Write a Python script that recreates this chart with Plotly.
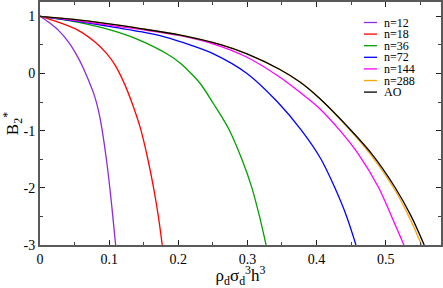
import plotly.graph_objects as go

# ---- data ----
x_n12 = [0, 0.0127, 0.0271, 0.0416, 0.0535, 0.0632, 0.0704, 0.0762, 0.0815, 0.0860, 0.0900, 0.0960, 0.1010, 0.1053, 0.1094]
y_n12 = [1, 0.895, 0.75, 0.545, 0.313, 0.08, -0.124, -0.30, -0.5, -0.73, -1.0, -1.5, -2.0, -2.5, -3.0]

x_n18 = [0, 0.0271, 0.056, 0.080, 0.0968, 0.109, 0.1214, 0.1335, 0.1455, 0.156, 0.1643, 0.1712, 0.1768]
y_n18 = [1, 0.895, 0.75, 0.545, 0.342, 0.138, -0.16, -0.53, -0.97, -1.5, -2.0, -2.5, -3.0]

x_n36 = [0, 0.056, 0.1137, 0.1455, 0.184, 0.203, 0.2186, 0.232, 0.251, 0.273, 0.292, 0.3065, 0.3175, 0.327]
y_n36 = [1, 0.895, 0.72, 0.575, 0.34, 0.18, 0.0, -0.18, -0.53, -0.97, -1.5, -2.0, -2.5, -3.0]

x_n72 = [0, 0.049, 0.097, 0.1455, 0.180, 0.217, 0.251, 0.2994, 0.3436, 0.3785, 0.4065, 0.4265, 0.4435, 0.457]
y_n72 = [1, 0.92, 0.83, 0.73, 0.64, 0.5, 0.343, 0.0, -0.5, -1.0, -1.5, -2.0, -2.5, -3.0]

x_n144 = [0, 0.049, 0.097, 0.1455, 0.203, 0.2547, 0.2994, 0.347, 0.376, 0.405, 0.434, 0.4605, 0.4895, 0.5085, 0.5264]
y_n144 = [1, 0.93, 0.85, 0.77, 0.66, 0.5, 0.283, -0.066, -0.33, -0.62, -1.0, -1.41, -1.99, -2.5, -3.0]

x_n288 = [0, 0.049, 0.097, 0.1455, 0.203, 0.2623, 0.2994, 0.347, 0.376, 0.403, 0.436, 0.4775, 0.511, 0.5335, 0.552]
y_n288 = [1, 0.945, 0.87, 0.785, 0.67, 0.5, 0.343, 0.07, -0.15, -0.42, -0.823, -1.406, -1.99, -2.5, -3.0]

x_ao = [0, 0.049, 0.097, 0.1455, 0.203, 0.2623, 0.2994, 0.347, 0.376, 0.403, 0.4365, 0.4798, 0.5134, 0.537, 0.5557]
y_ao = [1, 0.945, 0.87, 0.785, 0.67, 0.5, 0.343, 0.07, -0.15, -0.42, -0.823, -1.406, -1.99, -2.5, -3.0]

names = ["n=12", "n=18", "n=36", "n=72", "n=144", "n=288", "AO"]
xs_all = [x_n12, x_n18, x_n36, x_n72, x_n144, x_n288, x_ao]
ys_all = [y_n12, y_n18, y_n36, y_n72, y_n144, y_n288, y_ao]
colors = ["#8a2be2", "#ff0000", "#00a000", "#0000ff", "#ff00ff", "#ffa500", "#000000"]

x_ticks = [0, 0.1, 0.2, 0.3, 0.4, 0.5]
x_ticklabels = ["0", "0.1", "0.2", "0.3", "0.4", "0.5"]
y_ticks = [-3, -2, -1, 0, 1]
y_ticklabels = ["-3", "-2", "-1", "0", "1"]

FONT = "Liberation Serif, Times New Roman, serif"

fig = go.Figure()
for name, xs, ys, col in zip(names, xs_all, ys_all, colors):
    fig.add_trace(go.Scatter(x=xs, y=ys, mode="lines", name=name, showlegend=False,
                             hoverinfo="skip",
                             line=dict(color=col, width=1.3, shape="spline", smoothing=0.9)))

axis_common = dict(
    showgrid=False, zeroline=False, showline=True, linecolor="#5a5a5a", linewidth=2,
    mirror="allticks", ticks="inside", ticklen=5, tickcolor="#222222", tickwidth=1,
    tickfont=dict(family=FONT, size=14, color="black"), automargin=False,
)

fig.update_xaxes(range=[0, 0.58], tickvals=x_ticks, ticktext=x_ticklabels,
                 minor=dict(ticks="inside", dtick=0.05, ticklen=3, tickcolor="#444444"),
                 title=dict(text="ρ<sub>d</sub>σ<sub>d</sub><sup>3</sup>h<sup>3</sup>",
                            font=dict(family=FONT, size=17, color="black"), standoff=8),
                 **axis_common)
fig.update_yaxes(range=[-3, 1.25], tickvals=y_ticks, ticktext=y_ticklabels,
                 minor=dict(ticks="inside", dtick=0.5, ticklen=3, tickcolor="#444444"),
                 title=dict(text="B<sub>2</sub><sup>*</sup>",
                            font=dict(family=FONT, size=17, color="black"), standoff=4),
                 **axis_common)

# manual compact legend, like the reference
W, H = 443, 288
L, R, T, B = 40, 2, 2, 43
pw, ph = W - L - R, H - T - B
def px_to_paper_x(px):
    return (px - L) / pw
def py_to_paper_y(py):
    return (H - B - py) / ph

row0, gap = 22.5, 11.6
shapes, annos = [], []
for i, (name, col) in enumerate(zip(names, colors)):
    py = row0 + i * gap
    shapes.append(dict(type="line", xref="paper", yref="paper",
                       x0=px_to_paper_x(364), x1=px_to_paper_x(377),
                       y0=py_to_paper_y(py), y1=py_to_paper_y(py),
                       line=dict(color=col, width=1.3)))
    annos.append(dict(text=name, xref="paper", yref="paper",
                      x=px_to_paper_x(382), y=py_to_paper_y(py),
                      xanchor="left", yanchor="middle", showarrow=False,
                      font=dict(family=FONT, size=12, color="black")))

fig.update_layout(
    width=W, height=H,
    margin=dict(l=L, r=R, t=T, b=B),
    plot_bgcolor="white", paper_bgcolor="white",
    showlegend=False, shapes=shapes, annotations=annos,
    hovermode=False,
)

fig.write_html("out.html", config={"displayModeBar": False},
               post_script="document.body.style.margin='0';document.body.style.overflow='hidden';")
